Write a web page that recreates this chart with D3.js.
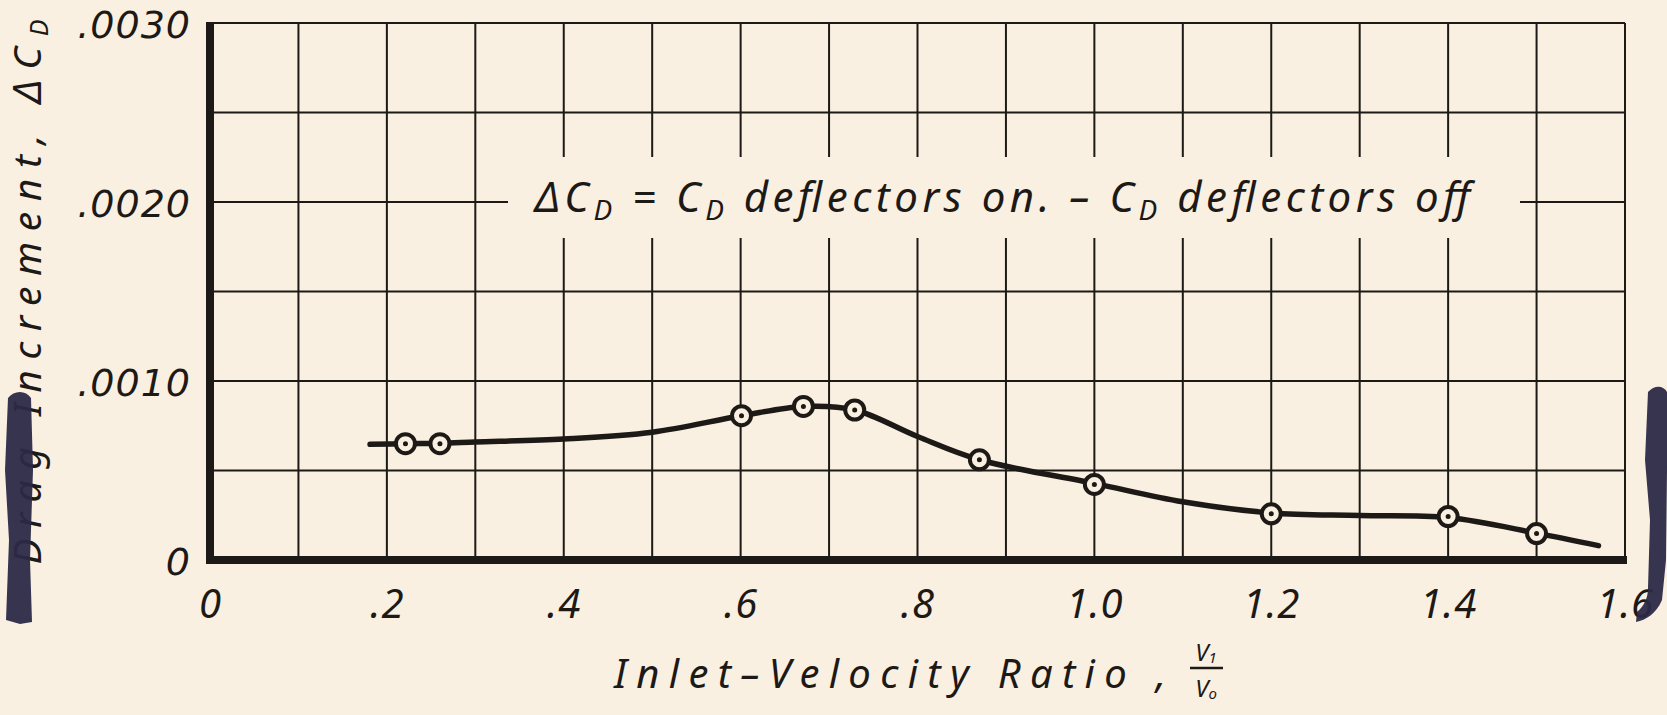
<!DOCTYPE html>
<html><head><meta charset="utf-8">
<script src="https://cdn.jsdelivr.net/npm/d3@7"></script>
<style>
html,body{margin:0;padding:0;background:#f9f0e1;}
svg{display:block;}
</style></head><body>
<svg id="chart" width="1667" height="715"></svg>
<script>
// ---- data ----
const xTicks = [0, 0.2, 0.4, 0.6, 0.8, 1.0, 1.2, 1.4, 1.6];
const xTickLabels = ["0", ".2", ".4", ".6", ".8", "1.0", "1.2", "1.4", "1.6"];
const yTicks = [0, 0.001, 0.002, 0.003];
const yTickLabels = ["0", ".0010", ".0020", ".0030"];
const xGridValues = [0.1, 0.2, 0.3, 0.4, 0.5, 0.6, 0.7, 0.8, 0.9, 1.0, 1.1, 1.2, 1.3, 1.4, 1.5, 1.6];
const yGridValues = [0.0005, 0.001, 0.0015, 0.002, 0.0025, 0.003];
const pointX = [0.221, 0.260, 0.601, 0.671, 0.729, 0.870, 1.0, 1.2, 1.4, 1.5];
const pointY = [0.00065, 0.00065, 0.000806, 0.000858, 0.000838, 0.00056, 0.000422, 0.000258, 0.000243, 0.000148];
const curveX = [0.181, 0.221, 0.26, 0.3, 0.4, 0.5, 0.601, 0.671, 0.729, 0.8, 0.87, 1.0, 1.1, 1.2, 1.3, 1.4, 1.5, 1.57];
const curveY = [0.000646, 0.00065, 0.000652, 0.000659, 0.000676, 0.000714, 0.000806, 0.000858, 0.000838, 0.000690, 0.00056, 0.000428, 0.000325, 0.000263, 0.000249, 0.000237, 0.000150, 0.000080];

// ---- layout ----
const BG = "#f9f0e1", INK = "#1d1916", NAVY = "#2c2947";
const FONT = "'Noto Sans', 'DejaVu Sans', sans-serif";
const LABELFONT = "'DejaVu Sans', sans-serif";
const svg = d3.select("#chart");
svg.append("rect").attr("width", 1667).attr("height", 715).attr("fill", BG);

const x = d3.scaleLinear().domain([0, 1.6]).range([210, 1625]);
const y = d3.scaleLinear().domain([0, 0.003]).range([560, 23]);

// grid
const grid = svg.append("g").attr("stroke", INK).attr("stroke-width", 2).attr("fill", "none");
grid.selectAll("line.v").data(xGridValues).join("line").attr("class", "v")
  .attr("x1", d => x(d)).attr("x2", d => x(d)).attr("y1", y(0.003)).attr("y2", y(0));
grid.selectAll("line.h").data(yGridValues).join("line").attr("class", "h")
  .attr("x1", x(0)).attr("x2", x(1.6)).attr("y1", d => y(d)).attr("y2", d => y(d));

// blank behind annotation
svg.append("rect").attr("x", 508).attr("y", 157).attr("width", 1520 - 508).attr("height", 238 - 157).attr("fill", BG);

// thick axes
svg.append("line").attr("x1", x(0)).attr("x2", x(0)).attr("y1", y(0.003) - 1).attr("y2", y(0) + 4)
  .attr("stroke", INK).attr("stroke-width", 8);
svg.append("line").attr("x1", x(0) - 4).attr("x2", x(1.6) + 2).attr("y1", y(0)).attr("y2", y(0))
  .attr("stroke", INK).attr("stroke-width", 8);

// axes labels
const xAxis = d3.axisBottom(x).tickValues(xTicks).tickFormat((d, i) => xTickLabels[i]).tickSize(0).tickPadding(30);
const gx = svg.append("g").attr("transform", `translate(0,${y(0)})`).call(xAxis);
gx.select(".domain").remove();
gx.selectAll("text").attr("font-family", FONT).attr("font-style", "italic").attr("font-size", 40).attr("fill", INK)
  .attr("letter-spacing", 1);

const yAxis = d3.axisLeft(y).tickValues(yTicks).tickFormat((d, i) => yTickLabels[i]).tickSize(0).tickPadding(19);
const gy = svg.append("g").attr("transform", `translate(${x(0)},0)`).call(yAxis);
gy.select(".domain").remove();
gy.selectAll("text").attr("font-family", LABELFONT).attr("font-style", "oblique").attr("font-size", 38).attr("fill", INK)
  .attr("dy", "0.38em").attr("letter-spacing", 1);

// curve
const line = d3.line().x(d => x(d[0])).y(d => y(d[1])).curve(d3.curveCatmullRom.alpha(0.5));
svg.append("path").datum(curveX.map((v, i) => [v, curveY[i]]))
  .attr("d", line).attr("fill", "none").attr("stroke", INK).attr("stroke-width", 5.5).attr("stroke-linecap", "round");

// points
const pts = svg.append("g").selectAll("g").data(pointX.map((v, i) => [v, pointY[i]])).join("g")
  .attr("transform", d => `translate(${x(d[0])},${y(d[1])})`);
pts.append("circle").attr("r", 9.5).attr("fill", BG).attr("stroke", INK).attr("stroke-width", 4);
pts.append("circle").attr("r", 2.5).attr("fill", INK);

// annotation
const ann = svg.append("text").attr("x", 535).attr("y", 212).attr("font-family", FONT).attr("font-style", "italic")
  .attr("font-size", 42).attr("fill", INK).attr("textLength", 935).attr("lengthAdjust", "spacing");
ann.append("tspan").text("\u0394C");
ann.append("tspan").attr("font-size", 28).attr("dy", 8).text("D");
ann.append("tspan").attr("dy", -8).text(" = C");
ann.append("tspan").attr("font-size", 28).attr("dy", 8).text("D");
ann.append("tspan").attr("dy", -8).text(" deflectors  on. \u2013 C");
ann.append("tspan").attr("font-size", 28).attr("dy", 8).text("D");
ann.append("tspan").attr("dy", -8).text(" deflectors  off");

// x title
svg.append("text").attr("x", 614).attr("y", 688).attr("font-family", FONT).attr("font-style", "italic")
  .attr("font-size", 40).attr("fill", INK).attr("textLength", 552).attr("lengthAdjust", "spacing")
  .text("Inlet\u2013Velocity  Ratio ,");
svg.append("line").attr("x1", 1190).attr("x2", 1223).attr("y1", 668).attr("y2", 668).attr("stroke", INK).attr("stroke-width", 2.5);
const num = svg.append("text").attr("x", 1206).attr("y", 661).attr("text-anchor", "middle").attr("font-family", FONT)
  .attr("font-style", "italic").attr("font-size", 24).attr("fill", INK);
num.append("tspan").text("V");
num.append("tspan").attr("font-size", 15).attr("dy", 2).text("1");
const den = svg.append("text").attr("x", 1206).attr("y", 697).attr("text-anchor", "middle").attr("font-family", FONT)
  .attr("font-style", "italic").attr("font-size", 24).attr("fill", INK);
den.append("tspan").text("V");
den.append("tspan").attr("font-size", 15).attr("dy", 2).text("o");

// y title
const yt = svg.append("text").attr("transform", "translate(41,292) rotate(-90)").attr("text-anchor", "middle")
  .attr("font-family", FONT).attr("font-style", "italic").attr("font-size", 39).attr("fill", INK)
  .attr("textLength", 545).attr("lengthAdjust", "spacing");
yt.append("tspan").text("Drag  Increment,  \u0394C");
yt.append("tspan").attr("font-size", 25).attr("dy", 7).text("D");

// ink marks on scan edges
svg.append("path").attr("d", "M8,398 C14,390 26,390 31,398 L33,470 L30,560 L32,622 L20,624 L6,620 L9,540 L5,470 Z")
  .attr("fill", NAVY).attr("opacity", 0.95);
svg.append("path").attr("d", "M1648,392 C1655,384 1664,386 1667,392 L1667,470 L1666,560 L1662,600 C1656,614 1646,620 1636,622 L1637,612 C1644,606 1648,598 1648,588 L1650,520 L1645,460 Z")
  .attr("fill", NAVY).attr("opacity", 0.95);
</script>
</body></html>
